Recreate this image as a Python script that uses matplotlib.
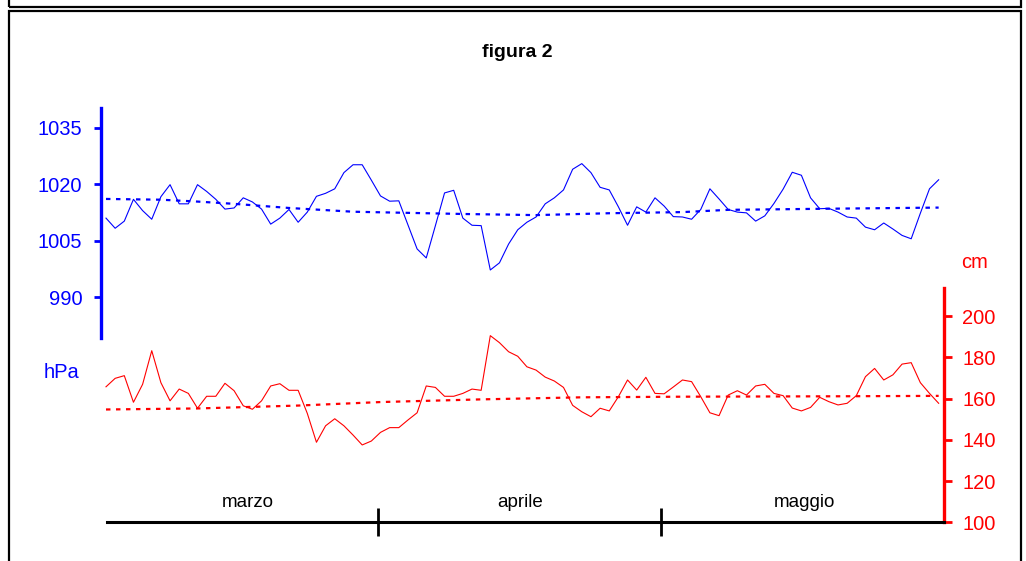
import numpy as np
import matplotlib.pyplot as plt
from matplotlib.patches import Rectangle

plt.rcParams["font.family"] = ["Liberation Sans", "DejaVu Sans"]

# --------------------------------------------------------------
# Data: daily values, 1 March - 31 May
# --------------------------------------------------------------
pressione = [
    1011.0, 1008.3, 1010.2, 1016.0, 1013.0, 1010.7, 1016.7, 1019.9, 1014.8, 1014.8,
    1019.9, 1018.1, 1016.0, 1013.4, 1013.7, 1016.4, 1015.3, 1013.4, 1009.4, 1011.0,
    1013.3, 1009.9, 1012.6, 1016.8, 1017.6, 1018.8, 1023.1, 1025.2, 1025.2, 1021.1,
    1016.9, 1015.5, 1015.6, 1009.2, 1002.8, 1000.4, 1009.0, 1017.7, 1018.4, 1011.0,
    1009.1, 1009.0, 997.2, 999.1, 1004.1, 1007.9, 1009.9, 1011.3, 1014.8, 1016.4,
    1018.5, 1024.0, 1025.5, 1023.1, 1019.2, 1018.5, 1014.0, 1009.1, 1014.0, 1012.6,
    1016.4, 1014.2, 1011.4, 1011.3, 1010.7, 1013.3, 1018.8, 1016.1, 1013.3, 1012.6,
    1012.4, 1010.2, 1011.6, 1014.9, 1018.7, 1023.2, 1022.4, 1016.4, 1013.5, 1013.6,
    1012.6, 1011.3, 1011.0, 1008.6, 1007.9, 1009.7, 1008.1, 1006.4, 1005.5, 1012.3,
    1018.8, 1021.2,
]
livello = [
    165.7, 169.8, 171.1, 158.2, 166.9, 183.2, 167.7, 158.9, 164.6, 162.5,
    155.3, 161.1, 161.1, 167.4, 163.8, 156.5, 154.8, 158.9, 166.1, 167.2,
    164.0, 164.0, 152.8, 138.8, 146.8, 150.2, 146.8, 142.3, 137.5, 139.4,
    143.6, 145.9, 145.9, 149.6, 153.1, 166.1, 165.4, 161.1, 161.1, 162.5,
    164.6, 164.0, 190.5, 187.1, 182.7, 180.5, 175.4, 173.8, 170.4, 168.5,
    165.4, 156.7, 153.6, 151.2, 155.3, 154.0, 160.9, 169.0, 164.1, 170.3,
    162.5, 162.3, 165.6, 169.0, 168.2, 160.9, 153.1, 151.7, 161.7, 163.8,
    161.7, 166.1, 166.9, 162.5, 161.4, 155.4, 154.0, 155.7, 160.6, 158.5,
    156.9, 157.7, 161.4, 170.6, 174.6, 169.0, 171.5, 176.7, 177.4, 167.7,
    162.5, 157.7,
]

# trend lines
p_trend_giorni = [0, 6, 10, 14, 20, 27, 39, 47, 55, 63, 68, 79, 91]
p_trend = [1016.1, 1015.9, 1015.4, 1014.8, 1013.7, 1012.7, 1012.1, 1011.8, 1012.3,
           1012.6, 1013.2, 1013.5, 1013.8]
l_trend_giorni = [0, 10, 21, 30, 41, 52, 63, 80, 91]
l_trend = [154.7, 155.2, 156.6, 158.3, 159.6, 160.6, 160.9, 161.1, 161.3]

mesi = ["marzo", "aprile", "maggio"]
mesi_pos = [15.5, 45.3, 76.3]
mesi_confini = [29.7, 60.7]
p_ticks = [990, 1005, 1020, 1035]
l_ticks = [100, 120, 140, 160, 180, 200]

giorni = np.arange(len(pressione))

W, H = 1026, 561
fig = plt.figure(figsize=(W / 100, H / 100), dpi=100)


def box(x0, y0, x1, y1):
    # pixel coords from top-left
    return [x0 / W, 1 - y1 / H, (x1 - x0) / W, (y1 - y0) / H]


# frames
fig.patches.append(Rectangle((9 / W, 1 - 6.5 / H), 1012 / W, 20 / H, transform=fig.transFigure,
                             fill=False, lw=1.6, ec="black"))
fig.patches.append(Rectangle((9 / W, -0.05), 1012 / W, 1 - 11.5 / H + 0.05, transform=fig.transFigure,
                             fill=False, lw=1.6, ec="black"))

x0 = -(106 - 101) / 9.15
x1 = (944 - 106) / 9.15

# --------------------------------------------------------------
# Pressure (top)
# --------------------------------------------------------------
ax1 = fig.add_axes(box(101, 108, 944, 338))
ax1.patch.set_visible(False)
ax1.plot(giorni, pressione, color="#0000ff", lw=0.8)
ax1.plot(p_trend_giorni, p_trend, color="#0000ff", lw=1.6, ls=(0, (2, 2.5)))
ax1.set_xlim(x0, x1)
ax1.set_ylim(979.1, 1040.3)
for s in ["top", "right", "bottom"]:
    ax1.spines[s].set_visible(False)
ax1.spines["left"].set_color("#0000ff")
ax1.spines["left"].set_linewidth(2.4)
ax1.set_xticks([])
ax1.set_yticks(p_ticks)
ax1.tick_params(axis="y", colors="#0000ff", length=5, width=2, labelsize=14.5, pad=8.5)

# --------------------------------------------------------------
# Level (bottom)
# --------------------------------------------------------------
ax2 = fig.add_axes(box(101, 288, 944, 522.3))
ax2.patch.set_visible(False)
ax2.plot(giorni, livello, color="#ff0000", lw=0.8)
ax2.plot(l_trend_giorni, l_trend, color="#ff0000", lw=1.6, ls=(0, (2, 2.5)))
ax2.set_xlim(x0, x1)
ax2.set_ylim(100, 213.6)
for s in ["top", "left"]:
    ax2.spines[s].set_visible(False)
ax2.spines["right"].set_color("#ff0000")
ax2.spines["right"].set_linewidth(2.4)
ax2.spines["bottom"].set_linewidth(2.2)
ax2.spines["bottom"].set_bounds(0.1, x1)
ax2.yaxis.tick_right()
ax2.set_yticks(l_ticks)
ax2.tick_params(axis="y", colors="#ff0000", length=6, width=2, labelsize=14.5, pad=7)
ax2.set_xticks(mesi_confini)
ax2.set_xticklabels([])
ax2.tick_params(axis="x", direction="inout", length=20, width=2, colors="black")
for nome, pos in zip(mesi, mesi_pos):
    ax2.text(pos, 107.2, nome, ha="center", va="baseline", fontsize=13.5)

fig.text(517 / W, 1 - 57 / H, "figura 2", ha="center", va="baseline", fontsize=14, fontweight="bold")
fig.text(61.5 / W, 1 - 372.5 / H, "hPa", ha="center", va="center", fontsize=14.5, color="#0000ff")
fig.text(975 / W, 1 - 262 / H, "cm", ha="center", va="center", fontsize=14.5, color="#ff0000")

fig.savefig("out.png", dpi=100)
